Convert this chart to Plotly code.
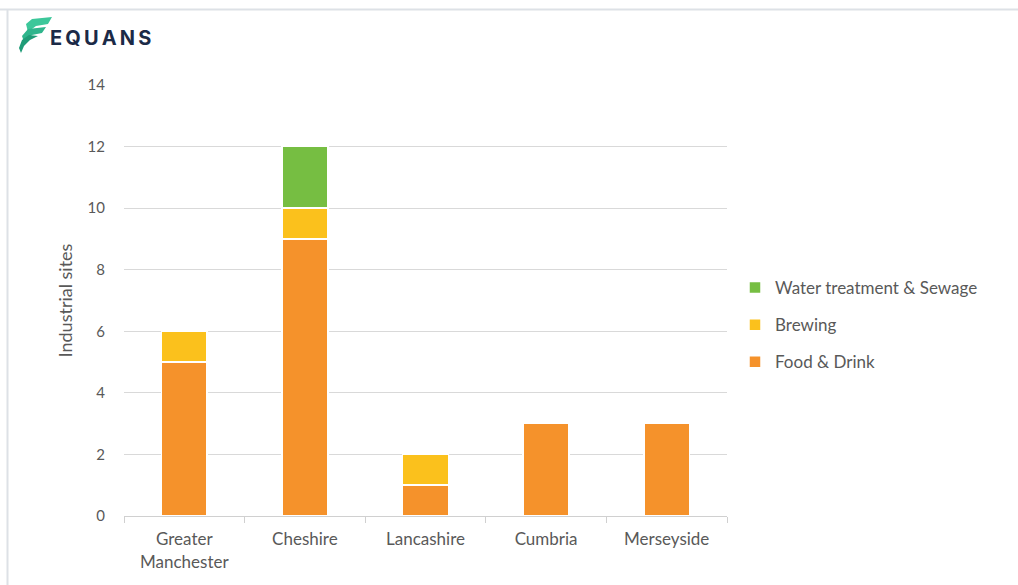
import plotly.graph_objects as go

categories = ["Greater<br>Manchester", "Cheshire", "Lancashire", "Cumbria", "Merseyside"]
food_drink = [5, 9, 1, 3, 3]
brewing = [1, 1, 1, 0, 0]
water = [0, 2, 0, 0, 0]
y_ticks = [0, 2, 4, 6, 8, 10, 12, 14]

W, H = 1018, 585
L, R, T, B = 124, 727, 85, 516

def px(x):
    return (x - L) / (R - L)

def py(y):
    return (B - y) / (B - T)

FONT = "Lato"
GRAY = "#595959"

fig = go.Figure()
series = [
    ("Food & Drink", food_drink, "#F5922B", 3),
    ("Brewing", brewing, "#FBC11C", 2),
    ("Water treatment & Sewage", water, "#76BE42", 1),
]
for i, (name, vals, col, rank) in enumerate(series):
    fig.add_trace(go.Bar(
        x=categories, y=vals, name=name, legendgroup=f"g{i}", legendrank=rank,
        marker=dict(color=col, line=dict(color="white", width=1.5)),
    ))

shapes = [
    dict(type="line", xref="paper", yref="paper", x0=px(0), x1=px(W), y0=py(9.5), y1=py(9.5),
         line=dict(color="#dde1e6", width=2)),
    dict(type="line", xref="paper", yref="paper", x0=px(7.5), x1=px(7.5), y0=py(9.5), y1=py(H),
         line=dict(color="#dde1e6", width=2)),
]

def path_px(pts):
    s = "M " + " L ".join(f"{px(a):.5f},{py(b):.5f}" for a, b in pts) + " Z"
    return s

# logo icon (three swooshes)
icon = [
    ([(26, 24), (32, 19), (52, 17), (48, 24), (36, 26), (28, 32)], "#3cc79a"),
    ([(22, 36), (28, 29), (46, 27), (42, 33), (32, 35), (24, 42)], "#2fb58c"),
    ([(19, 48), (22, 40), (29, 35), (38, 36), (30, 40), (24, 46), (21, 53)], "#1f9c77"),
]
for pts, col in icon:
    shapes.append(dict(type="path", xref="paper", yref="paper", path=path_px(pts),
                       fillcolor=col, line=dict(width=0)))

fig.update_layout(
    width=W, height=H,
    margin=dict(l=L, r=W - R, t=T, b=H - B),
    paper_bgcolor="white", plot_bgcolor="white",
    barmode="stack", bargap=0.62,
    font=dict(family=FONT, color=GRAY, size=15),
    showlegend=True,
    legend=dict(x=px(735), xanchor="left", y=py(325), yanchor="middle",
                traceorder="grouped", tracegroupgap=12, itemwidth=30,
                font=dict(size=17, color=GRAY, family=FONT)),
    xaxis=dict(tickson="boundaries", ticks="outside", ticklen=6, tickcolor="#d0d0d0",
               showline=True, linecolor="#d0d0d0", linewidth=1, ticklabelstandoff=8,
               tickfont=dict(size=17, color=GRAY), showgrid=False),
    yaxis=dict(range=[0, 14], tickvals=y_ticks, showgrid=True, gridcolor="#d9d9d9",
               gridwidth=1, zeroline=False, ticks="", ticklabelstandoff=18,
               tickfont=dict(size=15, color=GRAY),
               title=dict(text="Industrial sites", font=dict(size=18, color=GRAY), standoff=10)),
    shapes=shapes,
    annotations=[dict(text="<b>E\u2009Q\u2009U\u2009A\u2009N\u2009S</b>", xref="paper", yref="paper",
                      x=px(48), y=py(38), xanchor="left", yanchor="middle", showarrow=False,
                      font=dict(family="Inter", size=20, color="#1b2a47"))],
)

fig.write_html("out.html")
